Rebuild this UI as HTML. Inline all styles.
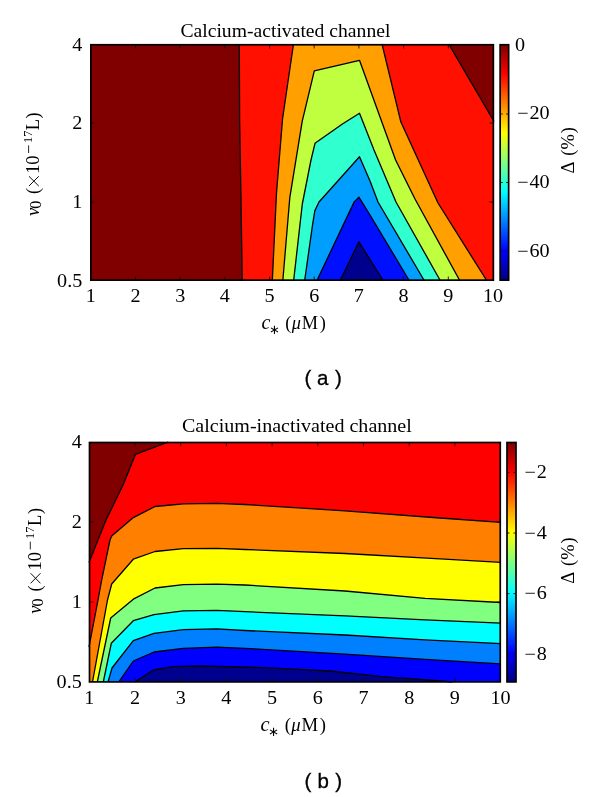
<!DOCTYPE html>
<html><head><meta charset="utf-8"><style>
html,body{margin:0;padding:0;background:#fff;width:600px;height:797px;overflow:hidden}
svg{display:block;will-change:transform}
text{font-family:"Liberation Serif",serif;fill:#000}
.tl{font-size:18px}
.ttl{font-size:19px}
.yl{font-size:18.5px}
.ysub{font-size:16px}
.it{font-style:italic}
.xp{font-size:17px}
.ys{font-size:12.3px}
.xl{font-size:18.3px}
.xs{font-size:13px}
.dl{font-size:18.5px}
.pl{font-family:"Liberation Sans",sans-serif;font-size:20.5px;stroke:#000;stroke-width:0.3}
.cl{fill:none;stroke:#000;stroke-width:1.3;stroke-linejoin:round}
.tk{stroke:#111;stroke-width:0.9}
.bx{fill:none;stroke:#000;stroke-width:1.7}
</style></head><body>
<svg width="600" height="797" viewBox="0 0 600 797">
<defs>
<linearGradient id="jet" x1="0" y1="1" x2="0" y2="0">
<stop offset="0" stop-color="#000080"/><stop offset="0.125" stop-color="#0000ff"/>
<stop offset="0.375" stop-color="#00ffff"/><stop offset="0.625" stop-color="#ffff00"/>
<stop offset="0.875" stop-color="#ff0000"/><stop offset="1" stop-color="#800000"/>
</linearGradient>
</defs>
<!-- plot a -->
<text x="180.4" y="36.8" class="ttl" textLength="210" lengthAdjust="spacingAndGlyphs">Calcium-activated channel</text>
<rect x="90" y="44" width="404" height="237" fill="#800000"/>
<polygon points="239.3,44.0 239.6,120.0 241.0,200.0 242.2,281.0 494.0,281.0 494.0,121.5 448.7,44.0" fill="#ff1000"/>
<polygon points="293.5,44.0 282.6,118.5 276.5,193.0 272.3,281.0 487.0,281.0 438.0,203.0 400.9,122.1 382.0,44.0" fill="#ff9f00"/>
<polygon points="282.8,281.0 289.8,197.6 302.2,121.4 314.3,70.9 359.5,60.3 395.6,160.0 415.0,199.0 460.0,281.0" fill="#bfff40"/>
<polygon points="293.6,281.0 302.3,204.0 311.0,160.0 315.0,143.3 342.4,124.0 359.5,113.3 374.0,150.0 396.0,202.0 440.5,281.0" fill="#30ffcf"/>
<polygon points="304.6,281.0 312.4,225.8 314.8,210.9 319.0,202.0 359.5,156.7 370.0,181.0 378.0,202.0 424.5,281.0" fill="#009fff"/>
<polygon points="316.7,281.0 354.2,201.9 358.9,197.2 370.0,215.0 409.5,281.0" fill="#0010ff"/>
<polygon points="339.9,281.0 358.9,241.9 383.5,281.0" fill="#00008f"/>
<polyline points="239.3,44.0 239.6,120.0 241.0,200.0 242.2,281.0" class="cl"/>
<polyline points="448.7,44.0 494.0,121.5" class="cl"/>
<polyline points="293.5,44.0 282.6,118.5 276.5,193.0 272.3,281.0" class="cl"/>
<polyline points="487.0,281.0 438.0,203.0 400.9,122.1 382.0,44.0" class="cl"/>
<polyline points="282.8,281.0 289.8,197.6 302.2,121.4 314.3,70.9 359.5,60.3 395.6,160.0 415.0,199.0 460.0,281.0" class="cl"/>
<polyline points="293.6,281.0 302.3,204.0 311.0,160.0 315.0,143.3 342.4,124.0 359.5,113.3 374.0,150.0 396.0,202.0 440.5,281.0" class="cl"/>
<polyline points="304.6,281.0 312.4,225.8 314.8,210.9 319.0,202.0 359.5,156.7 370.0,181.0 378.0,202.0 424.5,281.0" class="cl"/>
<polyline points="316.7,281.0 354.2,201.9 358.9,197.2 370.0,215.0 409.5,281.0" class="cl"/>
<polyline points="339.9,281.0 358.9,241.9 383.5,281.0" class="cl"/>
<line x1="135.5" y1="281" x2="135.5" y2="276.5" class="tk"/>
<line x1="135.5" y1="44" x2="135.5" y2="48.5" class="tk"/>
<line x1="180.2" y1="281" x2="180.2" y2="276.5" class="tk"/>
<line x1="180.2" y1="44" x2="180.2" y2="48.5" class="tk"/>
<line x1="224.9" y1="281" x2="224.9" y2="276.5" class="tk"/>
<line x1="224.9" y1="44" x2="224.9" y2="48.5" class="tk"/>
<line x1="269.6" y1="281" x2="269.6" y2="276.5" class="tk"/>
<line x1="269.6" y1="44" x2="269.6" y2="48.5" class="tk"/>
<line x1="314.2" y1="281" x2="314.2" y2="276.5" class="tk"/>
<line x1="314.2" y1="44" x2="314.2" y2="48.5" class="tk"/>
<line x1="358.9" y1="281" x2="358.9" y2="276.5" class="tk"/>
<line x1="358.9" y1="44" x2="358.9" y2="48.5" class="tk"/>
<line x1="403.6" y1="281" x2="403.6" y2="276.5" class="tk"/>
<line x1="403.6" y1="44" x2="403.6" y2="48.5" class="tk"/>
<line x1="448.3" y1="281" x2="448.3" y2="276.5" class="tk"/>
<line x1="448.3" y1="44" x2="448.3" y2="48.5" class="tk"/>
<line x1="90" y1="123.0" x2="94.5" y2="123.0" class="tk"/>
<line x1="494" y1="123.0" x2="489.5" y2="123.0" class="tk"/>
<line x1="90" y1="202.0" x2="94.5" y2="202.0" class="tk"/>
<line x1="494" y1="202.0" x2="489.5" y2="202.0" class="tk"/>
<rect x="90.9" y="44.75" width="402.45" height="235.40" class="bx"/>
<rect x="500.15" y="44.75" width="8.5" height="235.4" fill="url(#jet)"/><line x1="500.15" y1="114" x2="502.75" y2="114" class="tk"/><line x1="508.65" y1="114" x2="506.04999999999995" y2="114" class="tk"/><line x1="500.15" y1="182.5" x2="502.75" y2="182.5" class="tk"/><line x1="508.65" y1="182.5" x2="506.04999999999995" y2="182.5" class="tk"/><line x1="500.15" y1="251" x2="502.75" y2="251" class="tk"/><line x1="508.65" y1="251" x2="506.04999999999995" y2="251" class="tk"/><rect x="500.15" y="44.75" width="8.5" height="235.4" class="bx"/>
<text transform="translate(90.8,301.6) scale(1.12,1)" text-anchor="middle" class="tl">1</text>
<text transform="translate(135.5,301.6) scale(1.12,1)" text-anchor="middle" class="tl">2</text>
<text transform="translate(180.2,301.6) scale(1.12,1)" text-anchor="middle" class="tl">3</text>
<text transform="translate(224.9,301.6) scale(1.12,1)" text-anchor="middle" class="tl">4</text>
<text transform="translate(269.6,301.6) scale(1.12,1)" text-anchor="middle" class="tl">5</text>
<text transform="translate(314.2,301.6) scale(1.12,1)" text-anchor="middle" class="tl">6</text>
<text transform="translate(358.9,301.6) scale(1.12,1)" text-anchor="middle" class="tl">7</text>
<text transform="translate(403.6,301.6) scale(1.12,1)" text-anchor="middle" class="tl">8</text>
<text transform="translate(448.3,301.6) scale(1.12,1)" text-anchor="middle" class="tl">9</text>
<text transform="translate(493.0,301.6) scale(1.12,1)" text-anchor="middle" class="tl">10</text>
<text transform="translate(82.3,50.6) scale(1.12,1)" text-anchor="end" class="tl">4</text>
<text transform="translate(82.3,129.1) scale(1.12,1)" text-anchor="end" class="tl">2</text>
<text transform="translate(82.3,208.1) scale(1.12,1)" text-anchor="end" class="tl">1</text>
<text transform="translate(82.3,286.6) scale(1.12,1)" text-anchor="end" class="tl">0.5</text>
<text transform="translate(515.1,50.6) scale(1.12,1)" class="tl">0</text>
<text transform="translate(517.2,119.1) scale(1.12,1)" class="tl">−</text><text transform="translate(529.5,119.1) scale(1.12,1)" class="tl">20</text>
<text transform="translate(517.2,188.1) scale(1.12,1)" class="tl">−</text><text transform="translate(529.5,188.1) scale(1.12,1)" class="tl">40</text>
<text transform="translate(517.2,256.8) scale(1.12,1)" class="tl">−</text><text transform="translate(529.5,256.8) scale(1.12,1)" class="tl">60</text>
<g transform="translate(574.3,173.3) rotate(-90)"><text x="-0.2" y="0" class="dl">Δ</text><text x="17.6" y="0" class="dl">(</text><text x="23.8" y="0" class="dl">%</text><text x="40.1" y="0" class="dl">)</text></g>
<g transform="translate(38.9,215.7) rotate(-90)"><text x="3.85" y="0" class="yl it" text-anchor="middle">v</text><text x="10.90" y="2.1" class="ysub" text-anchor="middle">0</text><text x="24.70" y="0" class="yl" text-anchor="middle">(</text><text x="46.60" y="0" class="yl" text-anchor="middle">1</text><text x="55.65" y="0" class="yl" text-anchor="middle">0</text><text x="78.95" y="-6.9" class="ys" text-anchor="middle">17</text><text x="91.20" y="0" class="yl" text-anchor="middle">L</text><text x="100.25" y="0" class="yl" text-anchor="middle">)</text><line x1="62.70" y1="-10.3" x2="70.30" y2="-10.3" stroke="#000" stroke-width="0.85"/><path d="M29.65,-0.15 L39.45,-9.95 M29.65,-9.95 L39.45,-0.15" stroke="#000" stroke-width="0.95" fill="none"/></g>
<g transform="translate(262.1,329.3) scale(1.0,1)"><text x="3.9" y="0" class="xl it" text-anchor="middle" style="font-size:20px">c</text><text x="12.2" y="4.4" class="xs" text-anchor="middle">∗</text><text x="26.3" y="0" class="xl" text-anchor="middle">(</text><text x="34.2" y="0" class="xl it" text-anchor="middle">μ</text><text x="47.9" y="0" class="xl" text-anchor="middle">M</text><text x="60.6" y="0" class="xl" text-anchor="middle">)</text></g>
<text x="304.4" y="385" class="pl">(</text><text x="316.9" y="385" class="pl">a</text><text x="334.9" y="385" class="pl">)</text>
<!-- plot b -->
<text x="182" y="431.8" class="ttl" textLength="229.8" lengthAdjust="spacingAndGlyphs">Calcium-inactivated channel</text>
<rect x="89" y="442" width="412" height="240" fill="#800000"/>
<polygon points="168.3,442.0 135.5,454.3 123.0,485.0 106.0,520.0 89.0,562.5 89.0,682.0 501.0,682.0 501.0,442.0" fill="#ff0000"/>
<polygon points="89.0,647.0 98.0,600.0 101.7,580.0 110.0,540.0 111.7,536.0 133.3,517.6 155.0,506.5 183.3,503.8 216.7,503.3 245.0,504.5 345.0,510.8 440.0,518.0 501.0,522.3 501.0,682.0 89.0,682.0" fill="#ff8000"/>
<polygon points="92.5,682.0 107.5,600.0 111.7,584.0 133.3,559.2 155.0,551.5 183.3,548.7 216.7,548.3 245.0,549.5 345.0,553.5 440.0,558.8 501.0,562.3 501.0,682.0" fill="#ffff00"/>
<polygon points="97.3,682.0 110.7,618.0 133.3,599.2 155.0,588.0 183.3,584.7 216.7,584.2 245.0,585.0 345.0,591.0 425.0,598.3 501.0,602.5 501.0,682.0" fill="#80ff80"/>
<polygon points="103.3,682.0 111.3,643.3 133.3,620.7 154.0,614.7 183.3,610.8 216.7,610.3 245.0,611.7 345.0,615.8 425.0,619.8 501.0,623.2 501.0,682.0" fill="#00ffff"/>
<polygon points="108.0,682.0 112.0,668.0 133.3,640.7 154.0,633.3 183.3,629.7 216.7,628.8 245.0,630.5 345.0,635.0 425.0,639.8 501.0,643.6 501.0,682.0" fill="#0080ff"/>
<polygon points="118.7,682.0 133.3,661.0 154.0,652.0 183.3,648.3 216.7,647.2 245.0,648.3 345.0,654.2 425.0,659.3 501.0,663.9 501.0,682.0" fill="#0000ff"/>
<polygon points="135.0,682.0 153.3,670.0 173.3,666.7 200.0,666.0 263.3,667.7 330.0,671.0 381.7,676.6 443.5,681.2 452.0,682.0 501.0,682.0" fill="#00008f"/>
<polyline points="168.3,442.0 135.5,454.3 123.0,485.0 106.0,520.0 89.0,562.5" class="cl"/>
<polyline points="89.0,647.0 98.0,600.0 101.7,580.0 110.0,540.0 111.7,536.0 133.3,517.6 155.0,506.5 183.3,503.8 216.7,503.3 245.0,504.5 345.0,510.8 440.0,518.0 501.0,522.3" class="cl"/>
<polyline points="92.5,682.0 107.5,600.0 111.7,584.0 133.3,559.2 155.0,551.5 183.3,548.7 216.7,548.3 245.0,549.5 345.0,553.5 440.0,558.8 501.0,562.3" class="cl"/>
<polyline points="97.3,682.0 110.7,618.0 133.3,599.2 155.0,588.0 183.3,584.7 216.7,584.2 245.0,585.0 345.0,591.0 425.0,598.3 501.0,602.5" class="cl"/>
<polyline points="103.3,682.0 111.3,643.3 133.3,620.7 154.0,614.7 183.3,610.8 216.7,610.3 245.0,611.7 345.0,615.8 425.0,619.8 501.0,623.2" class="cl"/>
<polyline points="108.0,682.0 112.0,668.0 133.3,640.7 154.0,633.3 183.3,629.7 216.7,628.8 245.0,630.5 345.0,635.0 425.0,639.8 501.0,643.6" class="cl"/>
<polyline points="118.7,682.0 133.3,661.0 154.0,652.0 183.3,648.3 216.7,647.2 245.0,648.3 345.0,654.2 425.0,659.3 501.0,663.9" class="cl"/>
<polyline points="135.0,682.0 153.3,670.0 173.3,666.7 200.0,666.0 263.3,667.7 330.0,671.0 381.7,676.6 443.5,681.2 452.0,682.0" class="cl"/>
<line x1="135.0" y1="682" x2="135.0" y2="677.5" class="tk"/>
<line x1="135.0" y1="442" x2="135.0" y2="446.5" class="tk"/>
<line x1="180.7" y1="682" x2="180.7" y2="677.5" class="tk"/>
<line x1="180.7" y1="442" x2="180.7" y2="446.5" class="tk"/>
<line x1="226.4" y1="682" x2="226.4" y2="677.5" class="tk"/>
<line x1="226.4" y1="442" x2="226.4" y2="446.5" class="tk"/>
<line x1="272.1" y1="682" x2="272.1" y2="677.5" class="tk"/>
<line x1="272.1" y1="442" x2="272.1" y2="446.5" class="tk"/>
<line x1="317.8" y1="682" x2="317.8" y2="677.5" class="tk"/>
<line x1="317.8" y1="442" x2="317.8" y2="446.5" class="tk"/>
<line x1="363.5" y1="682" x2="363.5" y2="677.5" class="tk"/>
<line x1="363.5" y1="442" x2="363.5" y2="446.5" class="tk"/>
<line x1="409.2" y1="682" x2="409.2" y2="677.5" class="tk"/>
<line x1="409.2" y1="442" x2="409.2" y2="446.5" class="tk"/>
<line x1="454.9" y1="682" x2="454.9" y2="677.5" class="tk"/>
<line x1="454.9" y1="442" x2="454.9" y2="446.5" class="tk"/>
<line x1="89" y1="522.0" x2="93.5" y2="522.0" class="tk"/>
<line x1="501" y1="522.0" x2="496.5" y2="522.0" class="tk"/>
<line x1="89" y1="602.0" x2="93.5" y2="602.0" class="tk"/>
<line x1="501" y1="602.0" x2="496.5" y2="602.0" class="tk"/>
<rect x="89.5" y="442.5" width="410.75" height="239.4" class="bx"/>
<rect x="507" y="442.5" width="9" height="239.4" fill="url(#jet)"/><line x1="507" y1="472.5" x2="509.6" y2="472.5" class="tk"/><line x1="516" y1="472.5" x2="513.4" y2="472.5" class="tk"/><line x1="507" y1="533" x2="509.6" y2="533" class="tk"/><line x1="516" y1="533" x2="513.4" y2="533" class="tk"/><line x1="507" y1="593.6" x2="509.6" y2="593.6" class="tk"/><line x1="516" y1="593.6" x2="513.4" y2="593.6" class="tk"/><line x1="507" y1="654.2" x2="509.6" y2="654.2" class="tk"/><line x1="516" y1="654.2" x2="513.4" y2="654.2" class="tk"/><rect x="507" y="442.5" width="9" height="239.4" class="bx"/>
<text transform="translate(89.3,704) scale(1.12,1)" text-anchor="middle" class="tl">1</text>
<text transform="translate(135.0,704) scale(1.12,1)" text-anchor="middle" class="tl">2</text>
<text transform="translate(180.7,704) scale(1.12,1)" text-anchor="middle" class="tl">3</text>
<text transform="translate(226.4,704) scale(1.12,1)" text-anchor="middle" class="tl">4</text>
<text transform="translate(272.1,704) scale(1.12,1)" text-anchor="middle" class="tl">5</text>
<text transform="translate(317.8,704) scale(1.12,1)" text-anchor="middle" class="tl">6</text>
<text transform="translate(363.5,704) scale(1.12,1)" text-anchor="middle" class="tl">7</text>
<text transform="translate(409.2,704) scale(1.12,1)" text-anchor="middle" class="tl">8</text>
<text transform="translate(454.9,704) scale(1.12,1)" text-anchor="middle" class="tl">9</text>
<text transform="translate(500.6,704) scale(1.12,1)" text-anchor="middle" class="tl">10</text>
<text transform="translate(81.8,448.1) scale(1.12,1)" text-anchor="end" class="tl">4</text>
<text transform="translate(81.8,528.1) scale(1.12,1)" text-anchor="end" class="tl">2</text>
<text transform="translate(81.8,608.1) scale(1.12,1)" text-anchor="end" class="tl">1</text>
<text transform="translate(81.8,688.1) scale(1.12,1)" text-anchor="end" class="tl">0.5</text>
<text transform="translate(524.5,477.8) scale(1.12,1)" class="tl">−</text><text transform="translate(536.8,477.8) scale(1.12,1)" class="tl">2</text>
<text transform="translate(524.5,538.5) scale(1.12,1)" class="tl">−</text><text transform="translate(536.8,538.5) scale(1.12,1)" class="tl">4</text>
<text transform="translate(524.5,599.2) scale(1.12,1)" class="tl">−</text><text transform="translate(536.8,599.2) scale(1.12,1)" class="tl">6</text>
<text transform="translate(524.5,659.9) scale(1.12,1)" class="tl">−</text><text transform="translate(536.8,659.9) scale(1.12,1)" class="tl">8</text>
<g transform="translate(573.8,583.6) rotate(-90)"><text x="-0.2" y="0" class="dl">Δ</text><text x="17.6" y="0" class="dl">(</text><text x="23.8" y="0" class="dl">%</text><text x="40.1" y="0" class="dl">)</text></g>
<g transform="translate(40.6,613.7) rotate(-90)"><text x="3.95" y="0" class="yl it" text-anchor="middle">v</text><text x="11.17" y="2.1" class="ysub" text-anchor="middle">0</text><text x="25.32" y="0" class="yl" text-anchor="middle">(</text><text x="47.77" y="0" class="yl" text-anchor="middle">1</text><text x="57.04" y="0" class="yl" text-anchor="middle">0</text><text x="80.92" y="-6.9" class="ys" text-anchor="middle">17</text><text x="93.48" y="0" class="yl" text-anchor="middle">L</text><text x="102.76" y="0" class="yl" text-anchor="middle">)</text><line x1="64.27" y1="-10.3" x2="72.06" y2="-10.3" stroke="#000" stroke-width="0.85"/><path d="M30.39,-0.15 L40.44,-9.95 M30.39,-9.95 L40.44,-0.15" stroke="#000" stroke-width="0.95" fill="none"/></g>
<g transform="translate(261,731.4) scale(1.02,1)"><text x="3.9" y="0" class="xl it" text-anchor="middle" style="font-size:20px">c</text><text x="12.2" y="4.4" class="xs" text-anchor="middle">∗</text><text x="26.3" y="0" class="xl" text-anchor="middle">(</text><text x="34.2" y="0" class="xl it" text-anchor="middle">μ</text><text x="47.9" y="0" class="xl" text-anchor="middle">M</text><text x="60.6" y="0" class="xl" text-anchor="middle">)</text></g>
<text x="304.6" y="787.6" class="pl">(</text><text x="317.4" y="787.6" class="pl">b</text><text x="335.3" y="787.6" class="pl">)</text>
</svg>
</body></html>
